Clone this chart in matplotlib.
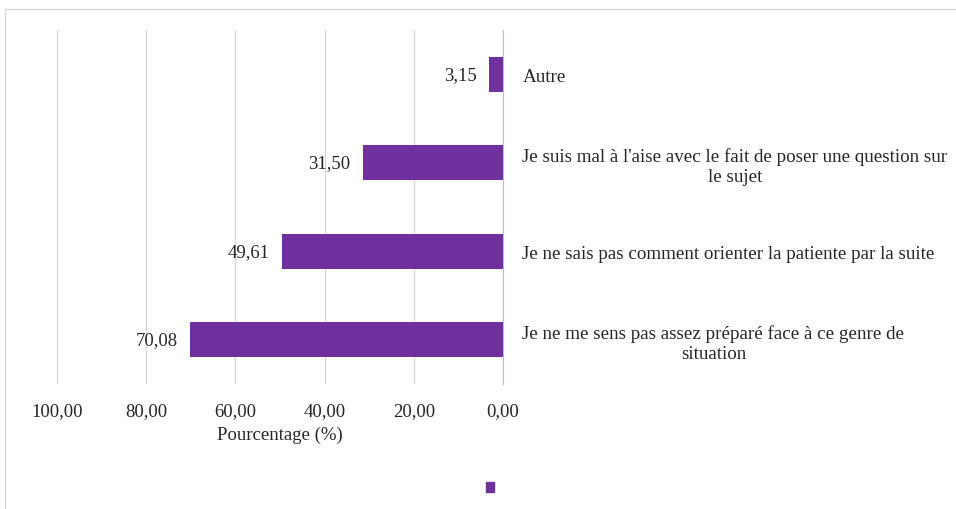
import matplotlib.pyplot as plt
from matplotlib.patches import Patch, Rectangle

categories = [
    "Je ne me sens pas assez préparé face à ce genre de\nsituation",
    "Je ne sais pas comment orienter la patiente par la suite",
    "Je suis mal à l'aise avec le fait de poser une question sur\nle sujet",
    "Autre",
]
values = [70.08, 49.61, 31.50, 3.15]
ticks = [100, 80, 60, 40, 20, 0]

purple = '#7030A0'
txt = '#262626'
plt.rcParams['font.family'] = ['Liberation Serif', 'DejaVu Serif']
plt.rcParams['font.size'] = 13.5

fig = plt.figure(figsize=(9.56, 5.10), dpi=100)
ax = fig.add_axes([57 / 956, 1 - 385 / 510, (503 - 57) / 956, (385 - 31) / 510])

y = list(range(len(values)))
ax.barh(y, values, height=0.4, color=purple, zorder=3)
for yi, v in zip(y, values):
    ax.annotate(f"{v:.2f}".replace('.', ','), xy=(v, yi), xytext=(-9, 0),
                textcoords='offset points', ha='right', va='center', color=txt)

ax.set_xlim(100, 0)
ax.set_ylim(-0.5, len(values) - 0.5)
ax.set_xticks(ticks)
ax.set_xticklabels([f"{t:.2f}".replace('.', ',') for t in ticks], color=txt)
ax.tick_params(axis='x', length=0, pad=13)
ax.set_xlabel('Pourcentage (%)', color=txt, labelpad=5)

ax.set_yticks(y)
ax.set_yticklabels(categories, color=txt, fontsize=13.7)
ax.yaxis.tick_right()
ax.tick_params(axis='y', length=0, pad=14)
for t in ax.get_yticklabels():
    t.set_multialignment('center')

ax.grid(axis='x', color='#D9D9D9', lw=1, zorder=0)
for s in ['top', 'bottom', 'left']:
    ax.spines[s].set_visible(False)
ax.spines['right'].set_color('#BFBFBF')

fig.legend(handles=[Patch(color=purple)], labels=[''], loc='center',
           bbox_to_anchor=(492 / 956, 1 - 490 / 510), frameon=False,
           handlelength=0.45, handleheight=0.45, handletextpad=0.2)

fig.add_artist(Rectangle((5 / 956, -0.1), 1.2, 1.1 - 10 / 510, transform=fig.transFigure,
                         fill=False, edgecolor='#D9D9D9', lw=1, clip_on=False))

plt.savefig('out.png', dpi=100)
